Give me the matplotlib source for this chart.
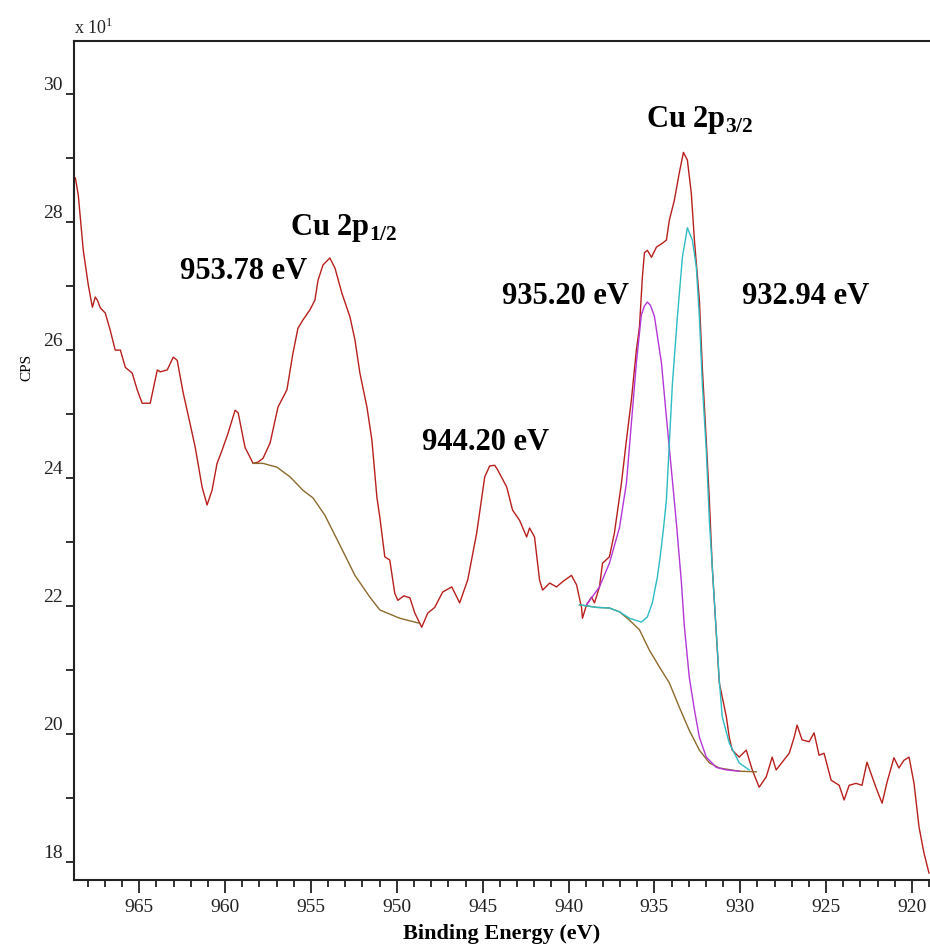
import matplotlib
matplotlib.use('Agg')
import matplotlib.pyplot as plt
from matplotlib.ticker import MultipleLocator

plt.rcParams['font.family'] = ['Liberation Serif', 'DejaVu Serif']
plt.rcParams['mathtext.fontset'] = 'custom'
plt.rcParams['mathtext.rm'] = 'Liberation Serif'
plt.rcParams['mathtext.bf'] = 'Liberation Serif:bold'

# measured spectrum (binding energy in eV, CPS in units of 10)
be = [968.72, 968.55, 968.26, 967.97, 967.73, 967.56, 967.44, 967.27, 966.98, 966.69,
      966.40, 966.10, 965.81, 965.41, 965.12, 964.83, 964.36, 963.95, 963.78, 963.37,
      963.02, 962.79, 962.44, 962.09, 961.74, 961.34, 961.05, 960.76, 960.47, 960.17,
      959.83, 959.42, 959.24, 958.84, 958.37, 958.08, 957.79, 957.38, 956.92, 956.40,
      956.05, 955.76, 955.47, 955.06, 954.77, 954.59, 954.30, 953.90, 953.60, 953.20,
      952.73, 952.44, 952.15, 951.74, 951.45, 951.16, 950.99, 950.70, 950.41, 950.12,
      949.94, 949.59, 949.24, 948.95, 948.55, 948.20, 947.79, 947.33, 946.80, 946.34,
      945.87, 945.35, 944.88, 944.59, 944.30, 944.13, 943.60, 943.26, 942.85, 942.44,
      942.27, 941.98, 941.69, 941.51, 941.10, 940.70, 940.35, 939.83, 939.53, 939.24,
      939.19, 938.95, 938.66, 938.49, 938.20, 938.02, 937.62, 937.33, 936.92, 936.63,
      936.34, 936.05, 935.87, 935.70, 935.58, 935.41, 935.17, 934.88, 934.53, 934.30,
      934.13, 933.84, 933.55, 933.31, 933.08, 932.85, 932.67, 932.38, 932.21, 931.98,
      931.80, 931.63, 931.40, 931.22, 930.81, 930.64, 930.47, 930.06, 929.65, 929.30,
      928.90, 928.49, 928.14, 927.91, 927.56, 927.15, 926.86, 926.69, 926.40, 925.99,
      925.70, 925.41, 925.12, 924.71, 924.24, 923.95, 923.66, 923.26, 922.91, 922.62,
      922.09, 921.74, 921.45, 921.05, 920.76, 920.47, 920.17, 919.88, 919.59, 919.30,
      919.01]
cps = [28.69, 28.42, 27.56, 27.02, 26.67, 26.83, 26.78, 26.66, 26.58, 26.31,
       26.00, 26.00, 25.73, 25.64, 25.38, 25.17, 25.17, 25.69, 25.66, 25.69,
       25.89, 25.84, 25.33, 24.91, 24.48, 23.86, 23.58, 23.81, 24.23, 24.44,
       24.70, 25.06, 25.02, 24.48, 24.23, 24.25, 24.31, 24.55, 25.11, 25.38,
       25.95, 26.34, 26.47, 26.63, 26.78, 27.09, 27.33, 27.44, 27.28, 26.89,
       26.52, 26.16, 25.64, 25.11, 24.59, 23.70, 23.39, 22.77, 22.72, 22.20,
       22.09, 22.16, 22.13, 21.89, 21.67, 21.89, 21.98, 22.22, 22.30, 22.05,
       22.41, 23.14, 24.02, 24.19, 24.20, 24.13, 23.86, 23.50, 23.34, 23.08,
       23.22, 23.08, 22.41, 22.25, 22.36, 22.30, 22.38, 22.48, 22.33, 21.97,
       21.81, 22.02, 22.14, 22.05, 22.30, 22.67, 22.77, 23.14, 23.92, 24.59,
       25.22, 26.00, 26.36, 27.14, 27.52, 27.56, 27.45, 27.61, 27.67, 27.72,
       28.03, 28.34, 28.77, 29.09, 28.97, 28.45, 27.72, 26.78, 25.73, 24.59,
       23.66, 22.61, 21.58, 20.80, 20.27, 19.95, 19.75, 19.64, 19.75, 19.44,
       19.17, 19.33, 19.64, 19.44, 19.56, 19.70, 19.95, 20.14, 19.91, 19.88,
       20.02, 19.67, 19.70, 19.28, 19.20, 18.97, 19.20, 19.23, 19.20, 19.56,
       19.16, 18.92, 19.25, 19.63, 19.47, 19.59, 19.64, 19.23, 18.55, 18.14,
       17.83]

# Shirley-type backgrounds
bg1_be = [958.37, 957.79, 956.98, 956.22, 955.47, 954.88, 954.19, 953.31, 952.44,
          951.57, 950.99, 949.83, 948.66]
bg1_cps = [24.23, 24.23, 24.17, 24.02, 23.81, 23.69, 23.42, 22.95, 22.48,
           22.14, 21.94, 21.81, 21.73]
bg2_be = [939.36, 938.37, 937.62, 937.03, 936.45, 935.87, 935.29, 934.71, 934.13,
          933.55, 932.97, 932.38, 931.80, 931.22, 930.06, 929.07]
bg2_cps = [22.02, 21.98, 21.97, 21.91, 21.78, 21.63, 21.31, 21.05, 20.80,
           20.42, 20.06, 19.75, 19.55, 19.47, 19.42, 19.41]

# fitted components
p1_be = [938.95, 938.20, 937.62, 937.03, 936.63, 936.34, 936.05, 935.76, 935.58,
         935.41, 935.23, 935.00, 934.59, 934.30, 934.01, 933.72, 933.43, 933.26,
         932.97, 932.67, 932.38, 931.98, 931.40, 930.81, 930.06]
p1_cps = [22.02, 22.30, 22.67, 23.23, 23.92, 24.86, 25.80, 26.55, 26.69,
          26.75, 26.70, 26.53, 25.80, 24.95, 24.13, 23.30, 22.38, 21.70,
          20.89, 20.38, 19.95, 19.64, 19.48, 19.44, 19.42]
p2_be = [939.36, 938.37, 937.62, 937.03, 936.45, 935.76, 935.41, 935.12, 934.83,
         934.65, 934.48, 934.30, 934.13, 933.95, 933.66, 933.37, 933.08, 932.79,
         932.56, 932.38, 932.21, 931.98, 931.80, 931.51, 931.22, 931.05, 930.64,
         930.06, 929.48]
p2_cps = [22.02, 21.98, 21.97, 21.91, 21.81, 21.75, 21.83, 22.05, 22.45,
          22.80, 23.19, 23.66, 24.55, 25.48, 26.52, 27.45, 27.91, 27.72,
          27.30, 26.52, 25.48, 24.44, 23.34, 22.09, 20.84, 20.27, 19.86,
          19.55, 19.44]

fig = plt.figure(figsize=(9.30, 9.47), dpi=100)
ax = fig.add_axes([74/930, 67/947, 856/930, 839/947])

ax.plot(be, cps, color='#b81f1c', lw=1.0)
ax.plot(bg1_be, bg1_cps, color='#8c6a2c', lw=1.0)
ax.plot(bg2_be, bg2_cps, color='#8c6a2c', lw=1.0)
ax.plot(p1_be, p1_cps, color='#b436d8', lw=1.0)
ax.plot(p2_be, p2_cps, color='#2cbcc4', lw=1.0)

ax.set_xlim(968.8, 918.95)
ax.set_ylim(17.72, 30.83)
ax.xaxis.set_major_locator(MultipleLocator(5))
ax.xaxis.set_minor_locator(MultipleLocator(1))
ax.yaxis.set_major_locator(MultipleLocator(2))
ax.yaxis.set_minor_locator(MultipleLocator(1))

ax.spines['right'].set_visible(False)
for s in ['left', 'top', 'bottom']:
    ax.spines[s].set_linewidth(1.5)
    ax.spines[s].set_color('#222222')

ax.tick_params(axis='x', which='major', direction='out', length=9, width=1.3,
               labelsize=14, pad=5, colors='#222222')
ax.tick_params(axis='x', which='minor', direction='out', length=5, width=1.3,
               colors='#222222')
ax.tick_params(axis='y', which='both', direction='out', length=6, width=1.3,
               labelsize=14, pad=2, colors='#222222')
plt.setp(ax.get_yticklabels(), va='bottom')

ax.set_xlabel('Binding Energy (eV)', fontsize=16, fontweight='bold')
ax.xaxis.set_label_coords(0.5, -0.052)
ax.set_ylabel('CPS', fontsize=11)
ax.yaxis.set_label_coords(-0.047, 0.611)

ax.text(0.0, 1.003, r'x 10$^{1}$', transform=ax.transAxes, ha='left', va='bottom',
        fontsize=13, color='#222222')

fs = 22
ax.text(953.08, 27.91, r'Cu 2p$_{\mathbf{1/2}}$', fontsize=fs, fontweight='bold',
        ha='center', va='center')
ax.text(932.38, 29.59, r'Cu 2p$_{\mathbf{3/2}}$', fontsize=fs, fontweight='bold',
        ha='center', va='center')
ax.text(958.9, 27.23, '953.78 eV', fontsize=fs, fontweight='bold', ha='center', va='center')
ax.text(944.83, 24.55, '944.20 eV', fontsize=fs, fontweight='bold', ha='center', va='center')
ax.text(940.17, 26.83, '935.20 eV', fontsize=fs, fontweight='bold', ha='center', va='center')
ax.text(926.22, 26.83, '932.94 eV', fontsize=fs, fontweight='bold', ha='center', va='center')

fig.savefig('out.png', dpi=100)
